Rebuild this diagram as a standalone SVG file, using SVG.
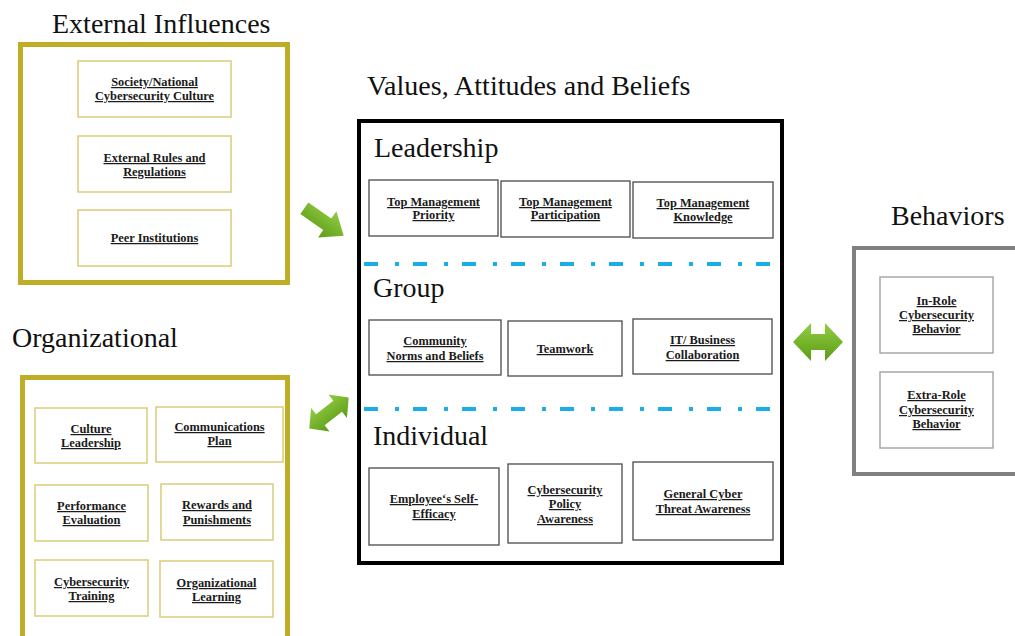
<svg xmlns="http://www.w3.org/2000/svg" width="1015" height="636" viewBox="0 0 1015 636">
  <style>
    .title { font-family: "Liberation Serif", "Times New Roman", serif; font-size: 28px; fill: #111; }
    .lbl { font-family: "Liberation Serif", "Times New Roman", serif; font-size: 12.4px; font-weight: bold; fill: #1a1a1a; text-anchor: middle; text-decoration: underline; }
    .yframe { fill: #fff; stroke: #bfae25; stroke-width: 5; }
    .ybox { fill: #fff; stroke: #d9cc7a; stroke-width: 1.5; }
    .kbox { fill: #fff; stroke: #4a4a4a; stroke-width: 1.3; }
    .gbox { fill: #fff; stroke: #a8a8a8; stroke-width: 1.5; }
    .dash { stroke: #1aaee6; stroke-width: 4; stroke-dasharray: 14 17 4 14; fill: none; }
    .arrow { fill: url(#grn); stroke: none; }
  </style>
  <defs>
    <linearGradient id="grn" x1="0" y1="0" x2="0" y2="1">
      <stop offset="0" stop-color="#92cc45"/>
      <stop offset="1" stop-color="#5c9c14"/>
    </linearGradient>
  </defs>
  <rect width="1015" height="636" fill="#fff"/>

  <!-- External Influences -->
  <g id="external">
    <text class="title" x="52" y="33">External Influences</text>
    <rect class="yframe" x="20.5" y="44.5" width="267" height="238"/>
  </g>
  <g id="ext-society">
    <rect class="ybox" x="78" y="61" width="153" height="56"/>
    <text class="lbl" x="154.5" y="86">Society/National</text>
    <text class="lbl" x="154.5" y="100">Cybersecurity Culture</text>
  </g>
  <g id="ext-rules">
    <rect class="ybox" x="78" y="136" width="153" height="56"/>
    <text class="lbl" x="154.5" y="162">External Rules and</text>
    <text class="lbl" x="154.5" y="176">Regulations</text>
  </g>
  <g id="ext-peer">
    <rect class="ybox" x="78" y="210" width="153" height="56"/>
    <text class="lbl" x="154.5" y="242">Peer Institutions</text>
  </g>

  <!-- Organizational -->
  <g id="organizational">
    <text class="title" x="12" y="347">Organizational</text>
    <rect class="yframe" x="22.5" y="377.5" width="265" height="300"/>
  </g>
  <g id="org-culture">
    <rect class="ybox" x="35" y="408" width="112" height="55"/>
    <text class="lbl" x="91" y="433">Culture</text>
    <text class="lbl" x="91" y="447">Leadership</text>
  </g>
  <g id="org-comm">
    <rect class="ybox" x="156" y="407" width="127" height="55"/>
    <text class="lbl" x="219.5" y="431">Communications</text>
    <text class="lbl" x="219.5" y="445">Plan</text>
  </g>
  <g id="org-perf">
    <rect class="ybox" x="35" y="485" width="113" height="56"/>
    <text class="lbl" x="91.5" y="510">Performance</text>
    <text class="lbl" x="91.5" y="524">Evaluation</text>
  </g>
  <g id="org-rewards">
    <rect class="ybox" x="161" y="484" width="112" height="56"/>
    <text class="lbl" x="217" y="509">Rewards and</text>
    <text class="lbl" x="217" y="524">Punishments</text>
  </g>
  <g id="org-training">
    <rect class="ybox" x="35" y="560" width="113" height="56"/>
    <text class="lbl" x="91.5" y="586">Cybersecurity</text>
    <text class="lbl" x="91.5" y="600">Training</text>
  </g>
  <g id="org-learning">
    <rect class="ybox" x="160" y="561" width="113" height="56"/>
    <text class="lbl" x="216.5" y="587">Organizational</text>
    <text class="lbl" x="216.5" y="601">Learning</text>
  </g>

  <!-- Values, Attitudes and Beliefs -->
  <g id="values">
    <text class="title" x="367" y="95">Values, Attitudes and Beliefs</text>
    <rect x="359" y="121" width="423" height="442" fill="#fff" stroke="#000" stroke-width="4"/>
    <text class="title" x="374" y="157">Leadership</text>
    <text class="title" x="373" y="297">Group</text>
    <text class="title" x="373" y="445">Individual</text>
    <line class="dash" x1="364" y1="264" x2="777" y2="264"/>
    <line class="dash" x1="364" y1="409" x2="777" y2="409"/>
  </g>
  <g id="lead-priority">
    <rect class="kbox" x="369" y="180" width="129" height="56"/>
    <text class="lbl" x="433.5" y="206">Top Management</text>
    <text class="lbl" x="433.5" y="219">Priority</text>
  </g>
  <g id="lead-participation">
    <rect class="kbox" x="501" y="181" width="129" height="56"/>
    <text class="lbl" x="565.5" y="206">Top Management</text>
    <text class="lbl" x="565.5" y="219">Participation</text>
  </g>
  <g id="lead-knowledge">
    <rect class="kbox" x="633" y="182" width="140" height="56"/>
    <text class="lbl" x="703" y="207">Top Management</text>
    <text class="lbl" x="703" y="221">Knowledge</text>
  </g>
  <g id="group-community">
    <rect class="kbox" x="369" y="320" width="132" height="55"/>
    <text class="lbl" x="435" y="345">Community</text>
    <text class="lbl" x="435" y="360">Norms and Beliefs</text>
  </g>
  <g id="group-teamwork">
    <rect class="kbox" x="508" y="321" width="114" height="55"/>
    <text class="lbl" x="565" y="353">Teamwork</text>
  </g>
  <g id="group-it">
    <rect class="kbox" x="633" y="319" width="139" height="55"/>
    <text class="lbl" x="702.5" y="344">IT/ Business</text>
    <text class="lbl" x="702.5" y="359">Collaboration</text>
  </g>
  <g id="ind-efficacy">
    <rect class="kbox" x="369" y="468" width="130" height="77"/>
    <text class="lbl" x="434" y="503">Employee‘s Self-</text>
    <text class="lbl" x="434" y="518">Efficacy</text>
  </g>
  <g id="ind-policy">
    <rect class="kbox" x="508" y="464" width="114" height="79"/>
    <text class="lbl" x="565" y="494">Cybersecurity</text>
    <text class="lbl" x="565" y="508">Policy</text>
    <text class="lbl" x="565" y="523">Awareness</text>
  </g>
  <g id="ind-threat">
    <rect class="kbox" x="633" y="462" width="140" height="78"/>
    <text class="lbl" x="703" y="498">General Cyber</text>
    <text class="lbl" x="703" y="513">Threat Awareness</text>
  </g>

  <!-- Behaviors -->
  <g id="behaviors">
    <text class="title" x="891" y="225">Behaviors</text>
    <rect x="854" y="248" width="200" height="226" fill="#fff" stroke="#808080" stroke-width="4"/>
  </g>
  <g id="beh-inrole">
    <rect class="gbox" x="880" y="277" width="113" height="76"/>
    <text class="lbl" x="936.5" y="305">In-Role</text>
    <text class="lbl" x="936.5" y="319">Cybersecurity</text>
    <text class="lbl" x="936.5" y="333">Behavior</text>
  </g>
  <g id="beh-extrarole">
    <rect class="gbox" x="880" y="372" width="113" height="76"/>
    <text class="lbl" x="936.5" y="399">Extra-Role</text>
    <text class="lbl" x="936.5" y="414">Cybersecurity</text>
    <text class="lbl" x="936.5" y="428">Behavior</text>
  </g>

  <!-- Connectors -->
  <g id="connectors">
    <polygon class="arrow" transform="translate(324,222) rotate(35)" points="-24,-7 4,-7 4,-16 24,0 4,16 4,7 -24,7"/>
    <polygon class="arrow" transform="translate(329,413) rotate(-38)" points="-25,0 -11,-15 -11,-7 11,-7 11,-15 25,0 11,15 11,7 -11,7 -11,15"/>
    <polygon class="arrow" transform="translate(818,342)" points="-25,0 -7,-19 -7,-8 7,-8 7,-19 25,0 7,19 7,8 -7,8 -7,19"/>
  </g>
</svg>
